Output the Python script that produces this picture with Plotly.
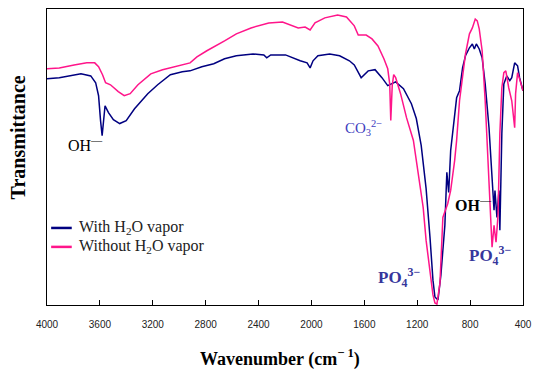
import plotly.graph_objects as go

# ---- data (wavenumber cm^-1, transmittance in arbitrary % units) ----
wn_with = [4000, 3907, 3743, 3669, 3632, 3610, 3595, 3583, 3561, 3535, 3498, 3450, 3401, 3338,
           3238, 3163, 3067, 2977, 2918, 2829, 2739, 2657, 2568, 2442, 2360, 2338, 2308, 2196,
           2085, 2033, 2010, 1988, 1951, 1862, 1787, 1713, 1676, 1624, 1571, 1519, 1467, 1423,
           1363, 1304, 1244, 1207, 1170, 1133, 1103, 1081, 1066, 1043, 1021, 991, 976, 962, 947,
           917, 902, 880, 857, 835, 805, 783, 768, 753, 731, 709, 686, 657, 634, 619, 612, 597,
           582, 575, 560, 545, 523, 500, 485, 463, 441, 426, 400]
t_with = [76.4, 76.8, 78.1, 77.4, 75.1, 70.7, 62.3, 57.2, 67.3, 65.0, 62.6, 61.3, 62.3, 66.3,
          71.4, 74.4, 77.8, 78.8, 79.1, 80.5, 81.5, 83.2, 84.2, 84.8, 84.5, 83.5, 84.5, 84.5,
          82.5, 81.8, 80.1, 82.5, 84.2, 84.8, 84.2, 82.5, 81.1, 76.8, 79.1, 79.5, 76.8, 74.1,
          75.4, 73.1, 68.0, 63.0, 53.9, 39.4, 22.6, 8.4, 2.7, 1.7, 10.1, 26.9, 44.8, 38.0, 52.2,
          65.7, 70.0, 72.4, 80.1, 84.2, 86.9, 88.2, 86.5, 88.2, 86.5, 83.5, 74.7, 59.9, 41.1,
          32.0, 38.7, 29.6, 38.7, 25.3, 57.9, 74.7, 77.4, 75.8, 76.8, 81.8, 80.8, 76.8, 72.4]

wn_without = [4000, 3907, 3795, 3699, 3639, 3610, 3580, 3557, 3520, 3461, 3416, 3371, 3312, 3215,
              3126, 3029, 2918, 2866, 2791, 2657, 2568, 2457, 2323, 2219, 2152, 2100, 2048, 2010,
              1973, 1899, 1802, 1735, 1676, 1646, 1586, 1542, 1497, 1452, 1423, 1408, 1400, 1389,
              1378, 1363, 1326, 1281, 1229, 1192, 1155, 1133, 1103, 1081, 1066, 1051, 1028, 1006,
              969, 947, 917, 902, 880, 857, 835, 805, 783, 761, 746, 731, 709, 686, 664, 649, 634,
              619, 604, 589, 575, 560, 545, 530, 508, 485, 463, 456, 441, 426, 400]
t_without = [79.8, 80.1, 81.1, 81.8, 81.8, 80.5, 77.8, 75.1, 74.4, 72.1, 70.7, 71.4, 74.4, 78.1,
             79.5, 80.5, 81.8, 83.8, 85.9, 89.2, 91.6, 93.6, 95.3, 95.6, 94.6, 93.6, 93.9, 92.9,
             95.3, 97.0, 98.0, 97.3, 94.3, 91.2, 91.2, 89.9, 87.5, 83.2, 79.8, 74.7, 62.3, 74.1,
             77.8, 76.8, 71.4, 63.3, 55.6, 44.4, 33.0, 21.9, 10.8, 3.4, 0.7, 0.3, 7.4, 29.6,
             34.3, 38.7, 48.8, 55.6, 69.0, 76.8, 84.8, 91.6, 93.6, 96.6, 96.0, 93.3, 85.9, 69.0,
             46.5, 33.0, 19.5, 26.9, 21.2, 30.3, 57.9, 73.4, 78.5, 79.1, 73.4, 69.0, 59.9, 71.4,
             78.5, 76.4, 72.4]

tick_vals = [4000, 3600, 3200, 2800, 2400, 2000, 1600, 1200, 800, 400]
tick_text = [str(v) for v in tick_vals]

series_names = ["With H<sub>2</sub>O vapor", "Without H<sub>2</sub>O vapor"]
series_colors = ["#000080", "#FF158A"]

SERIF = "Liberation Serif, Times New Roman, serif"

fig = go.Figure()
fig.add_trace(go.Scatter(x=wn_with, y=t_with, mode="lines", name=series_names[0],
                         line=dict(color=series_colors[0], width=1.5), showlegend=False))
fig.add_trace(go.Scatter(x=wn_without, y=t_without, mode="lines", name=series_names[1],
                         line=dict(color=series_colors[1], width=1.5), showlegend=False))

annos = [
    dict(x=3855, y=54.5, text="OH<sup>—</sup>", xanchor="left", yanchor="middle",
         font=dict(family=SERIF, size=16, color="black")),
    dict(x=932, y=34.0, text="<b>OH<sup>—</sup></b>", xanchor="left", yanchor="middle",
         font=dict(family=SERIF, size=16, color="black")),
    dict(x=1763, y=59.9, text="CO<sub>3</sub><sup>2−</sup>", xanchor="left", yanchor="middle",
         font=dict(family=SERIF, size=15, color="#4040C0")),
    dict(x=1512, y=9.4, text="<b>PO<sub>4</sub><sup>3−</sup></b>", xanchor="left", yanchor="middle",
         font=dict(family=SERIF, size=17, color="#36369C")),
    dict(x=820, y=16.7, text="<b>PO<sub>4</sub><sup>3−</sup></b>", xanchor="left", yanchor="middle",
         font=dict(family=SERIF, size=17, color="#36369C")),
]
for a in annos:
    a.update(xref="x", yref="y", showarrow=False)

annos.append(dict(xref="paper", yref="paper", x=0.49, y=-0.178, showarrow=False,
                  text="<b>Wavenumber (cm<sup>− 1</sup>)</b>", xanchor="center", yanchor="middle",
                  font=dict(family=SERIF, size=18, color="black")))
annos.append(dict(xref="paper", yref="paper", x=-0.059, y=0.566, showarrow=False,
                  text="<b>Transmittance</b>", textangle=-90, xanchor="center", yanchor="middle",
                  font=dict(family=SERIF, size=20, color="black")))

# manual legend (line sample + label)
legend_y = [0.2603, 0.1963]
shapes = []
for name, col, ly in zip(series_names, series_colors, legend_y):
    shapes.append(dict(type="line", xref="paper", yref="paper", x0=0.0087, x1=0.052,
                       y0=ly, y1=ly, line=dict(color=col, width=2.5)))
    annos.append(dict(xref="paper", yref="paper", x=0.063, y=ly, showarrow=False,
                      text=name, xanchor="left", yanchor="middle",
                      font=dict(family=SERIF, size=16, color="#222222")))

fig.update_layout(
    width=540, height=369,
    margin=dict(l=47, r=9, t=8, b=64),
    paper_bgcolor="white", plot_bgcolor="white",
    showlegend=False,
    annotations=annos,
    shapes=shapes,
)
fig.update_xaxes(range=[4000, 400], tickvals=tick_vals, ticktext=tick_text,
                 ticks="inside", ticklen=5, tickcolor="black", tickwidth=1,
                 showline=True, linecolor="black", linewidth=1, mirror=True,
                 showgrid=False, zeroline=False, ticklabelstandoff=10,
                 tickfont=dict(family="Liberation Sans, Arial, sans-serif", size=10, color="#222222"))
fig.update_yaxes(range=[0, 100], showticklabels=False, ticks="",
                 showline=True, linecolor="black", linewidth=1, mirror=True,
                 showgrid=False, zeroline=False)

fig.write_html("out.html")
